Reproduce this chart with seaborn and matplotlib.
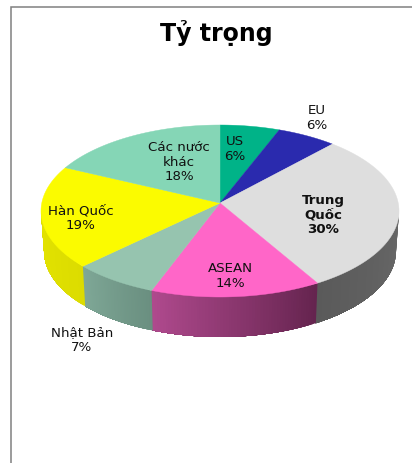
import numpy as np
import matplotlib
matplotlib.use("Agg")
import matplotlib.pyplot as plt
from matplotlib.patches import Polygon
import seaborn as sns

# Slices in clockwise order, starting at twelve o'clock
partners = ["US", "EU", "Trung\nQuốc", "ASEAN", "Nhật Bản", "Hàn Quốc", "Các nước\nkhác"]
shares = [6, 6, 30, 14, 7, 19, 18]
top_colors = ["#00B388", "#2A2AAE", "#DEDEDE", "#FF66C8", "#96C4AF", "#FBFB00", "#85D6B6"]
# Rim shading of each slice: colour at its clockwise start and end
rim_shades = [("#008060", "#008060"), ("#1c1c70", "#1c1c70"), ("#686868", "#5a5a5a"),
              ("#65244f", "#b04a8e"), ("#6a8f80", "#7fa897"), ("#dcdc00", "#e4e400"),
              ("#60a088", "#60a088")]
title_text = "Tỷ trọng"

sns.set_theme(style="white")
plt.rcParams["font.family"] = ["DejaVu Sans"]

fig = plt.figure(figsize=(4.12, 4.63), dpi=100, facecolor="white")
ax = fig.add_axes([0, 0, 1, 1])
ax.set_xlim(0, 412)
ax.set_ylim(463, 0)
ax.axis("off")

# Outer chart frame, open on the right and at the bottom
ax.plot([11, 11, 412], [463, 7, 7], color="#808080", lw=1.1, solid_joinstyle="miter")

# The rim is a plain ellipse; the hub sits above its centre because of the tilt
CX, CY, HUB_Y = 220, 211, 203
RX, RY, DEPTH = 179, 86, 40


def rim(theta, drop=0.0, rx=RX):
    """Point on the pie's edge; theta runs clockwise from the top, in degrees."""
    t = np.radians(theta)
    return CX + rx * np.sin(t), CY - RY * np.cos(t) + drop


def perspective(theta):
    """Foreshorten angles: slices on the far side look narrower than those up front."""
    t = np.radians(theta)
    return theta - 6.0 * np.sin(t) - 0.7 * (1 - np.cos(t))


edges = perspective(360 * np.cumsum([0] + shares) / sum(shares))

# Side wall: each step repaints from its own angle to the slice's end, which avoids seams
for i in range(len(shares)):
    a0, a1 = max(edges[i], 90), min(edges[i + 1], 270)
    if a1 <= a0:
        continue
    c0 = np.array(matplotlib.colors.to_rgb(rim_shades[i][0]))
    c1 = np.array(matplotlib.colors.to_rgb(rim_shades[i][1]))
    for s0 in np.linspace(a0, a1, 60)[:-1]:
        f = (s0 - a0) / (a1 - a0)
        ts = np.linspace(s0, a1, 40)
        xt, yt = rim(ts)
        xb, yb = rim(ts[::-1], DEPTH, RX - 3)
        shade = c0 + (c1 - c0) * f
        ax.add_patch(Polygon(np.c_[np.r_[xt, xb], np.r_[yt, yb]], closed=True,
                             facecolor=shade, edgecolor="none"))

# Top face of the pie
for i in range(len(shares)):
    ts = np.linspace(edges[i], edges[i + 1], 80)
    x, y = rim(ts)
    ax.add_patch(Polygon(np.c_[np.r_[CX, x], np.r_[HUB_Y, y]], closed=True,
                         facecolor=top_colors[i], edgecolor=top_colors[i], lw=0.3))

ax.text(216, 33, title_text, ha="center", va="center", fontsize=17, fontweight="bold", color="black")

label_spots = [(235, 149), (317, 118), (323, 215), (230, 276), (82, 340), (81, 218), (179, 162)]
for i, (name, share) in enumerate(zip(partners, shares)):
    ax.text(*label_spots[i], f"{name}\n{share}%", ha="center", va="center", fontsize=9.6,
            linespacing=1.16, color="#111111", fontweight="bold" if share == max(shares) else "normal")

fig.savefig("out.png", dpi=100, facecolor="white")
